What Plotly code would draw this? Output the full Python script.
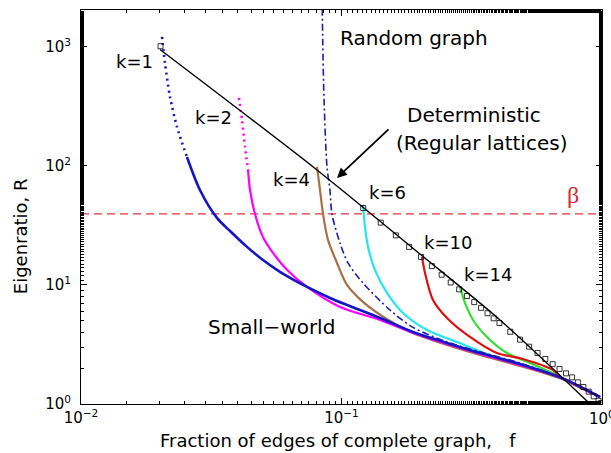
import plotly.graph_objects as go

# ---------------- data ----------------
# k = 1 small-world curve (blue)
k1_f = [0.02047, 0.02101, 0.02196, 0.02336, 0.02551, 0.02862, 0.03326, 0.03733, 0.04337, 0.04995,
        0.05805, 0.07374, 0.09032, 0.1050, 0.1405, 0.1881, 0.2541, 0.3401, 0.4843, 0.7023, 0.9824]
k1_R = [1213, 734, 380, 213, 119, 62.8, 36.6, 28.4, 20.9, 16.2,
        12.9, 9.62, 7.78, 6.79, 5.28, 4.03, 3.26, 2.68, 2.17, 1.65, 1.145]
k1_dotted_until = 4

# k = 2 (magenta)
k2_f = [0.04041, 0.0415, 0.04262, 0.04377, 0.04455, 0.04656, 0.04995, 0.05458, 0.06175, 0.07374,
        0.09867, 0.1405, 0.1881, 0.2541, 0.3401, 0.4843, 0.7023, 0.9824]
k2_R = [373, 244, 144.5, 92.5, 62.8, 39.5, 25.3, 18.6, 13.4, 9.62,
        6.53, 5.08, 3.95, 3.19, 2.63, 2.13, 1.65, 1.145]
k2_dotted_until = 3

# k = 4 (brown)
k4_f = [0.08054, 0.0827, 0.08492, 0.08874, 0.0961, 0.1050, 0.1209, 0.1469, 0.1881, 0.2541,
        0.3401, 0.4843, 0.7023, 0.9824]
k4_R = [98.1, 62.8, 39.5, 23.9, 15.3, 10.0, 7.2, 5.28, 3.95, 3.13,
        2.58, 2.09, 1.62, 1.145]

# k = 6 (cyan)
k6_f = [0.1209, 0.1231, 0.1264, 0.1344, 0.1495, 0.1722, 0.2129, 0.2776, 0.3716, 0.4843, 0.7023, 0.9824]
k6_R = [47.0, 30.7, 20.9, 13.4, 8.57, 5.82, 4.19, 3.32, 2.58, 2.17, 1.65, 1.145]

# k = 10 (red)
k10_f = [0.2037, 0.2092, 0.2245, 0.2541, 0.3113, 0.3953, 0.4975, 0.6484, 0.7023, 0.9824]
k10_R = [17.2, 12.6, 7.48, 5.28, 3.66, 2.68, 2.39, 1.93, 1.65, 1.145]

# k = 14 (green)
k14_f = [0.2850, 0.2979, 0.3197, 0.3619, 0.4318, 0.5292, 0.6720, 0.7023, 0.9824]
k14_R = [9.62, 7.06, 5.08, 3.66, 2.68, 2.21, 1.75, 1.65, 1.145]

# random graph (dash-dot)
rnd_f = [0.0840, 0.0847, 0.0857, 0.08797, 0.09032, 0.0919, 0.09867, 0.1059, 0.1209, 0.1535,
         0.1881, 0.2541, 0.3401, 0.4843, 0.7023, 0.9824]
rnd_R = [5000, 1145, 359, 98.1, 62.8, 39.5, 22.5, 15.3, 10.4, 6.16,
         4.4, 3.32, 2.74, 2.21, 1.65, 1.145]

# deterministic (regular lattice) line
det_line_f = [0.0201, 0.0805, 0.200, 0.406, 0.90]
det_line_R = [950, 92.5, 18.2, 5.08, 1.0]

# regular lattice points (squares)
det_f = [0.0202, 0.1212, 0.1414, 0.1616, 0.1818, 0.2020, 0.2222, 0.2424, 0.2626, 0.2828,
         0.3030, 0.3232, 0.3434, 0.3636, 0.3838, 0.4040, 0.4444, 0.4848, 0.5253, 0.5657,
         0.6061, 0.6465, 0.6869, 0.7273, 0.7677, 0.8081, 0.8485, 0.8889, 0.9293, 0.9697, 0.9899]
det_R = [1013, 44.3, 33.4, 26.1, 20.9, 17.2, 14.4, 12.2, 10.5, 9.19,
         8.08, 7.18, 6.42, 5.79, 5.25, 4.79, 4.04, 3.47, 3.03, 2.68,
         2.39, 2.16, 1.97, 1.81, 1.675, 1.52, 1.39, 1.27, 1.16, 1.064, 1.02]

beta_R = 39.5

x_tickvals = [0.01, 0.1, 1]
x_ticktext = ["10<sup>\u22122</sup>", "10<sup>\u22121</sup>", "10<sup>0</sup>"]
y_tickvals = [1, 10, 100, 1000]
y_ticktext = ["10<sup>0</sup>", "10<sup>1</sup>", "10<sup>2</sup>", "10<sup>3</sup>"]

# ---------------- figure ----------------
FONT = "DejaVu Sans"
BLUE = "#1414C8"
MAGENTA = "#FF00FF"
BROWN = "#A8704A"
CYAN = "#22E6F0"
RED = "#E01010"
GREEN = "#33DD33"
NAVY = "#1E1EA8"

fig = go.Figure()


def add_line(xs, ys, color, width=2.2, dash="solid", smooth=True):
    line = dict(color=color, width=width, dash=dash)
    if smooth and len(xs) > 2:
        line.update(shape="spline", smoothing=0.8)
    fig.add_trace(go.Scatter(x=xs, y=ys, mode="lines", line=line,
                             showlegend=False, hoverinfo="skip"))


def add_curve(xs, ys, color, dotted_until=None, width=2.2):
    if dotted_until:
        add_line(xs[:dotted_until + 1], ys[:dotted_until + 1], color, width=2.6, dash="2px,4px")
        add_line(xs[dotted_until:], ys[dotted_until:], color, width=width)
    else:
        add_line(xs, ys, color, width=width)


# beta threshold
fig.add_trace(go.Scatter(x=[0.01, 1], y=[beta_R, beta_R], mode="lines",
                         line=dict(color="#E8343C", width=1.2, dash="8px,5px"),
                         showlegend=False, hoverinfo="skip"))

add_curve(k14_f, k14_R, GREEN)
add_curve(k10_f, k10_R, RED)
add_curve(k6_f, k6_R, CYAN)
add_curve(k4_f, k4_R, BROWN)
add_curve(k2_f, k2_R, MAGENTA, k2_dotted_until)
add_curve(k1_f, k1_R, BLUE, k1_dotted_until, width=2.6)
add_line(rnd_f, rnd_R, NAVY, width=1.6, dash="7px,3px,2px,3px")

# deterministic line and points
add_line(det_line_f, det_line_R, "black", width=1.4)
fig.add_trace(go.Scatter(x=det_f, y=det_R, mode="markers",
                         marker=dict(symbol="square-open", size=5, color="black",
                                     line=dict(color="black", width=0.8)),
                         showlegend=False, hoverinfo="skip"))

axis_common = dict(type="log", showline=True, linecolor="black", linewidth=1,
                   mirror="allticks", ticks="inside", ticklen=6, tickcolor="black",
                   showgrid=False, zeroline=False,
                   tickfont=dict(family=FONT, size=15, color="black"),
                   minor=dict(ticks="inside", ticklen=3, tickcolor="black", showgrid=False))

fig.update_xaxes(range=[-2, 0], tickmode="array", tickvals=x_tickvals, ticktext=x_ticktext,
                 **axis_common)
fig.update_yaxes(range=[0, 3.31], tickmode="array", tickvals=y_tickvals, ticktext=y_ticktext,
                 ticklabelstandoff=6, **axis_common)

ann = []


def label(lx, ly, text, size=18, color="black", family=FONT):
    ann.append(dict(x=lx, y=ly, xref="x", yref="y", text=text, showarrow=False,
                    xanchor="center", yanchor="middle",
                    font=dict(family=family, size=size, color=color)))


label(-1.7946, 2.874, "k=1")
label(-1.4933, 2.403, "k=2")
label(-1.1919, 1.882, "k=4")
label(-0.8234, 1.773, "k=6")
label(-0.5931, 1.361, "k=10")
label(-0.4395, 1.084, "k=14")
label(-0.7236, 3.076, "Random graph", size=20)
label(-0.4933, 2.429, "Deterministic", size=20)
label(-0.4645, 2.193, "(Regular lattices)", size=20)
label(-1.2706, 0.647, "Small\u2212world", size=20)
label(-0.1113, 1.756, "\u03b2", size=24, color="#D82830", family="Liberation Serif")

# arrow pointing at the deterministic line
ann.append(dict(x=-1.0173, y=1.899, xref="x", yref="y", ax=53, ay=-50,
                axref="pixel", ayref="pixel", text="", showarrow=True,
                arrowhead=2, arrowsize=1.1, arrowwidth=1.8, arrowcolor="black"))

# the last x tick label sits at the page edge (partly cut in the reference)
ann.append(dict(x=1.0, y=-0.0355, xref="paper", yref="paper", text=x_ticktext[-1],
                showarrow=False, xanchor="center", yanchor="middle",
                font=dict(family=FONT, size=15, color="black")))

# axis titles
ann.append(dict(x=-0.117, y=0.426, xref="paper", yref="paper", text="Eigenratio, R",
                textangle=-90, showarrow=False, xanchor="center", yanchor="middle",
                font=dict(family=FONT, size=18, color="black")))
ann.append(dict(x=0.493, y=-0.093, xref="paper", yref="paper",
                text="Fraction of edges of complete graph,\u00a0\u00a0\u00a0f",
                showarrow=False, xanchor="center", yanchor="middle",
                font=dict(family=FONT, size=18, color="black")))

fig.update_layout(width=611, height=453,
                  margin=dict(l=81, r=9, t=10, b=49),
                  paper_bgcolor="white", plot_bgcolor="white",
                  annotations=ann, showlegend=False,
                  font=dict(family=FONT, color="black"))

fig.write_html("out.html", config={"displayModeBar": False},
               post_script="document.body.style.margin='0px';document.body.style.overflow='hidden';")
